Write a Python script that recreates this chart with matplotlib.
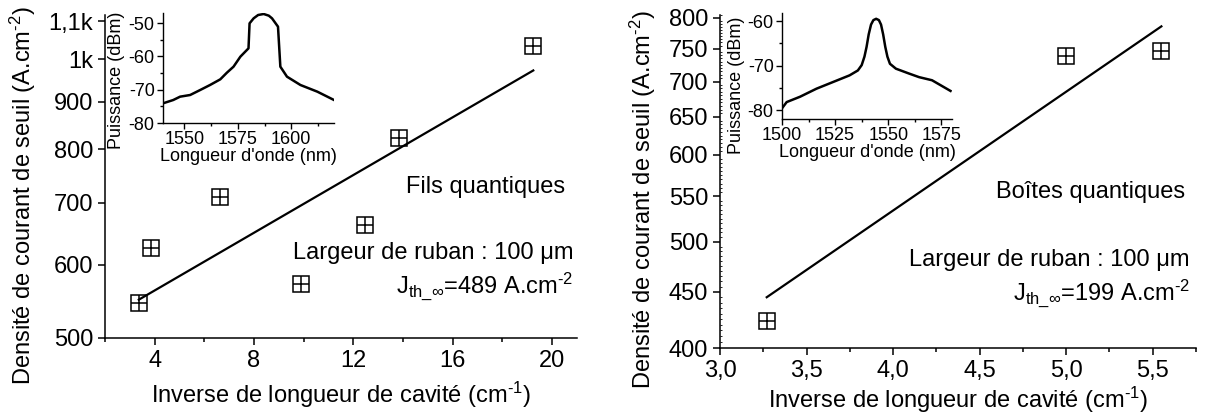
import matplotlib
matplotlib.use("Agg")
import matplotlib.pyplot as plt
from matplotlib.ticker import FixedLocator, FixedFormatter, MultipleLocator, NullLocator

plt.rcParams['font.family'] = ['Liberation Sans', 'DejaVu Sans']
plt.rcParams['mathtext.fontset'] = 'custom'
plt.rcParams['mathtext.rm'] = 'Liberation Sans'
plt.rcParams['mathtext.it'] = 'Liberation Sans:italic'
plt.rcParams['axes.unicode_minus'] = False

# ---- Left panel: quantum wires ----
wires_x = [3.36, 3.84, 6.64, 9.9, 12.48, 13.84, 19.24]
wires_y = [545, 626, 711, 572, 663, 822, 1033]
wires_fit_x = [3.36, 19.24]
wires_fit_y = [550, 973]
left_yticks = [500, 600, 700, 800, 900, 1000, 1100]
left_yticklabels = ['500', '600', '700', '800', '900', '1k', '1,1k']
left_xticks = [4, 8, 12, 16, 20]

wires_spec_nm = [1540, 1544.8, 1548, 1552.7, 1557.4, 1562, 1566.8, 1569.9, 1573, 1576.2,
                 1580, 1580.5, 1582.4, 1584.5, 1587.1, 1589.5, 1591, 1593.8, 1594.9, 1598,
                 1604.3, 1612.2, 1620]
wires_spec_db = [-74.1, -73.1, -72.1, -71.6, -70.1, -68.6, -66.9, -64.9, -63.1, -60.1,
                 -57.6, -50.1, -48.6, -47.6, -47.3, -47.8, -48.6, -51.1, -63.1, -66.1,
                 -68.6, -70.6, -73.1]

# ---- Right panel: quantum dots ----
dots_x = [3.27, 5.0, 5.55]
dots_y = [423, 739, 747]
dots_fit_x = [3.27, 5.55]
dots_fit_y = [445, 786]
right_yticks = [400, 450, 500, 550, 600, 650, 700, 750, 800]
right_xticks = [3.0, 3.5, 4.0, 4.5, 5.0, 5.5]
right_xticklabels = ['3,0', '3,5', '4,0', '4,5', '5,0', '5,5']

dots_spec_nm = [1500, 1502.2, 1508.5, 1516.2, 1524, 1531.8, 1535.7, 1537.5, 1538.8, 1539.8,
                1540.8, 1541.9, 1543.0, 1544.3, 1545.6, 1546.6, 1547.6, 1548.6, 1549.6,
                1550.8, 1553.6, 1559.8, 1564.5, 1570.6, 1579.3]
dots_spec_db = [-79.6, -78.2, -77.0, -75.2, -73.7, -72.2, -71.1, -69.9, -68.0, -65.8,
                -63.0, -60.8, -59.8, -59.5, -59.8, -60.8, -63.0, -65.8, -68.0,
                -69.6, -70.7, -71.8, -72.6, -73.3, -75.7]

W, H = 1206, 417
fig = plt.figure(figsize=(W / 100, H / 100), dpi=100)


def rect(x0, y0, x1, y1):
    return [x0 / W, 1 - y1 / H, (x1 - x0) / W, (y1 - y0) / H]


def style(ax, lw=1.1):
    for s in ['top', 'right']:
        ax.spines[s].set_visible(False)
    for s in ['left', 'bottom']:
        ax.spines[s].set_linewidth(lw)
    ax.tick_params(which='both', direction='out', width=lw, colors='black')


def markers(ax, x, y):
    ax.plot(x, y, linestyle='none', marker='s', ms=12, mfc='none', mec='black', mew=1.1, clip_on=False)
    ax.plot(x, y, linestyle='none', marker='+', ms=12, mec='black', mew=1.1, clip_on=False)


HY = '\u2010'
XLAB = 'Inverse de longueur de cavité (cm$^{\\mathregular{' + HY + '1}}$)'
YLAB = 'Densité de courant de seuil (A.cm$^{\\mathregular{' + HY + '2}}$)'


def jlabel(val):
    return 'J$_{\\mathregular{th\\_∞}}$=' + val + ' A.cm$^{\\mathregular{' + HY + '2}}$'


FS = 17
FSi = 13
# Left main
axL = fig.add_axes(rect(105, 15, 577, 338))
style(axL)
axL.set_yscale('log')
axL.set_xlim(2, 21)
axL.set_ylim(500, 1117)
axL.yaxis.set_major_locator(FixedLocator(left_yticks))
axL.yaxis.set_major_formatter(FixedFormatter(left_yticklabels))
axL.yaxis.set_minor_locator(NullLocator())
axL.xaxis.set_major_locator(FixedLocator(left_xticks))
axL.xaxis.set_minor_locator(MultipleLocator(2))
axL.tick_params(which='major', length=5, labelsize=FS)
axL.tick_params(which='minor', length=3)
axL.plot(wires_fit_x, wires_fit_y, color='black', lw=1.6)
markers(axL, wires_x, wires_y)
axL.set_xlabel(XLAB, fontsize=FS, labelpad=6)
axL.set_ylabel(YLAB, fontsize=FS)
axL.yaxis.set_label_coords(-0.142, 0.44)
axL.text(0.975, 0.449, 'Fils quantiques', transform=axL.transAxes, ha='right', va='baseline', fontsize=FS)
axL.text(0.992, 0.245, 'Largeur de ruban : 100 μm', transform=axL.transAxes, ha='right', va='baseline', fontsize=FS)
axL.text(0.992, 0.139, jlabel('489'), transform=axL.transAxes, ha='right', va='baseline', fontsize=FS)

# Left inset
insL = fig.add_axes(rect(163, 13, 334, 123))
style(insL, lw=1.0)
insL.set_xlim(1540, 1620)
insL.set_ylim(-80, -47)
insL.xaxis.set_major_locator(MultipleLocator(25))
insL.xaxis.set_minor_locator(FixedLocator([1562.5, 1587.5, 1612.5]))
insL.yaxis.set_major_locator(MultipleLocator(10))
insL.yaxis.set_minor_locator(MultipleLocator(5))
insL.tick_params(which='major', length=4, labelsize=FSi, pad=2)
insL.tick_params(which='minor', length=2.5)
insL.patch.set_alpha(0)
insL.plot(wires_spec_nm, wires_spec_db, color='black', lw=1.8)
insL.set_xlabel("Longueur d'onde (nm)", fontsize=FSi, labelpad=0)
insL.set_ylabel('Puissance (dBm)', fontsize=FSi)
insL.yaxis.set_label_coords(-0.22, 0.39)

# Right main
axR = fig.add_axes(rect(720, 15, 1196, 348))
style(axR)
axR.set_yscale('log')
axR.set_xlim(3.0, 5.75)
axR.set_ylim(400, 805)
axR.yaxis.set_major_locator(FixedLocator(right_yticks))
axR.yaxis.set_major_formatter(FixedFormatter([str(v) for v in right_yticks]))
axR.yaxis.set_minor_locator(MultipleLocator(5))
axR.yaxis.set_minor_formatter(FixedFormatter([]))
axR.xaxis.set_major_locator(FixedLocator(right_xticks))
axR.xaxis.set_major_formatter(FixedFormatter(right_xticklabels))
axR.xaxis.set_minor_locator(MultipleLocator(0.25))
axR.tick_params(which='major', length=5, labelsize=FS)
axR.tick_params(axis='x', which='minor', length=3)
axR.tick_params(axis='y', which='minor', length=1.5, width=0.6, direction='in')
axR.plot(dots_fit_x, dots_fit_y, color='black', lw=1.6)
markers(axR, dots_x, dots_y)
axR.set_xlabel(XLAB, fontsize=FS, labelpad=2)
axR.set_ylabel(YLAB, fontsize=FS)
axR.yaxis.set_label_coords(-0.1305, 0.444)
axR.text(0.977, 0.450, 'Boîtes quantiques', transform=axR.transAxes, ha='right', va='baseline', fontsize=FS)
axR.text(0.987, 0.246, 'Largeur de ruban : 100 μm', transform=axR.transAxes, ha='right', va='baseline', fontsize=FS)
axR.text(0.987, 0.144, jlabel('199'), transform=axR.transAxes, ha='right', va='baseline', fontsize=FS)

# Right inset
insR = fig.add_axes(rect(782, 13, 952, 119))
style(insR, lw=1.0)
insR.set_xlim(1500, 1580)
insR.set_ylim(-82, -58.2)
insR.xaxis.set_major_locator(MultipleLocator(25))
insR.xaxis.set_minor_locator(FixedLocator([1512.5, 1537.5, 1562.5]))
insR.yaxis.set_major_locator(MultipleLocator(10))
insR.yaxis.set_minor_locator(MultipleLocator(5))
insR.tick_params(which='major', length=4, labelsize=FSi, pad=2)
insR.tick_params(which='minor', length=2.5)
insR.patch.set_alpha(0)
insR.plot(dots_spec_nm, dots_spec_db, color='black', lw=1.8)
insR.set_xlabel("Longueur d'onde (nm)", fontsize=FSi, labelpad=0)
insR.set_ylabel('Puissance (dBm)', fontsize=FSi)
insR.yaxis.set_label_coords(-0.22, 0.32)

fig.savefig('out.png', dpi=100)
